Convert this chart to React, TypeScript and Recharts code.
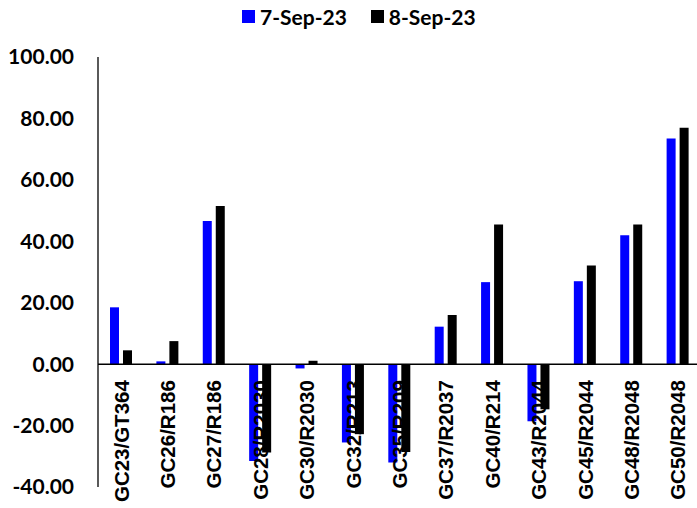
import { ComposedChart, Bar, Line, LabelList, XAxis, YAxis, ReferenceLine, Legend } from 'recharts';

const categories = [
  'GC23/GT364', 'GC26/R186', 'GC27/R186', 'GC28/R2030', 'GC30/R2030', 'GC32/R213', 'GC35/R209',
  'GC37/R2037', 'GC40/R214', 'GC43/R2044', 'GC45/R2044', 'GC48/R2048', 'GC50/R2048',
];
const sep7 = [18.5, 0.9, 46.6, -31.5, -1.4, -25.5, -32.0, 12.2, 26.7, -18.6, 27.0, 42.0, 73.5];
const sep8 = [4.5, 7.5, 51.5, -28.8, 1.1, -22.8, -28.6, 16.0, 45.5, -14.7, 32.1, 45.5, 77.0];
const yTicks = [-40, -20, 0, 20, 40, 60, 80, 100];

const seriesNames = ['7-Sep-23', '8-Sep-23'];
const colors = ['#0000ff', '#000000'];

const data = categories.map((name, i) => ({ name, sep7: sep7[i], sep8: sep8[i] }));

// category labels hang from the zero line (Excel "low" label position), drawn over the bars
const CategoryLabel = ({ x, y, value }: any) => {
  const ax = x + 7.5;
  const ay = y + 16;
  return (
    <text
      x={ax}
      y={ay}
      transform={`rotate(-90, ${ax}, ${ay})`}
      textAnchor="end"
      fontFamily="'Liberation Sans', Arial, sans-serif"
      fontWeight={700}
      fontSize={20.5}
      fill="#000"
    >
      {value}
    </text>
  );
};

const LegendContent = () => (
  <div style={{ display: 'flex', gap: 24, fontFamily: 'Lato, sans-serif', fontWeight: 700, fontSize: 21, color: '#000' }}>
    {seriesNames.map((s, i) => (
      <div key={s} style={{ display: 'flex', alignItems: 'center', gap: 5 }}>
        <span style={{ width: 13, height: 13, background: colors[i], display: 'inline-block' }} />
        <span>{s}</span>
      </div>
    ))}
  </div>
);

export default function App() {
  return (
    <div style={{ position: 'absolute', left: 0, top: 0, width: 697, height: 508, overflow: 'hidden', background: '#fff' }}>
      <ComposedChart
        width={705}
        height={508}
        data={data}
        margin={{ top: 57, right: 4, left: 0, bottom: 20 }}
        barSize={9}
        barGap={4}
      >
        <Legend
          verticalAlign="middle"
          content={<LegendContent />}
          wrapperStyle={{ top: 4, left: 242, width: 'auto' }}
        />
        <XAxis dataKey="name" axisLine={false} tickLine={false} tick={false} height={1} interval={0} />
        <YAxis
          domain={[-40, 100]}
          ticks={yTicks}
          interval={0}
          width={98}
          tickLine={false}
          tickSize={0}
          tickMargin={24}
          axisLine={{ stroke: '#000', strokeWidth: 1.3 }}
          tickFormatter={(v: number) => v.toFixed(2)}
          tick={{ fill: '#000', fontFamily: 'Lato, sans-serif', fontWeight: 700, fontSize: 21 }}
        />
        <ReferenceLine y={0} stroke="#000" strokeWidth={1.5} />
        <Bar dataKey="sep7" name={seriesNames[0]} fill={colors[0]} isAnimationActive={false} />
        <Bar dataKey="sep8" name={seriesNames[1]} fill={colors[1]} isAnimationActive={false} />
        <Line
          dataKey={() => 0}
          stroke="none"
          dot={false}
          activeDot={false}
          legendType="none"
          isAnimationActive={false}
        >
          <LabelList dataKey="name" content={<CategoryLabel />} />
        </Line>
      </ComposedChart>
    </div>
  );
}
